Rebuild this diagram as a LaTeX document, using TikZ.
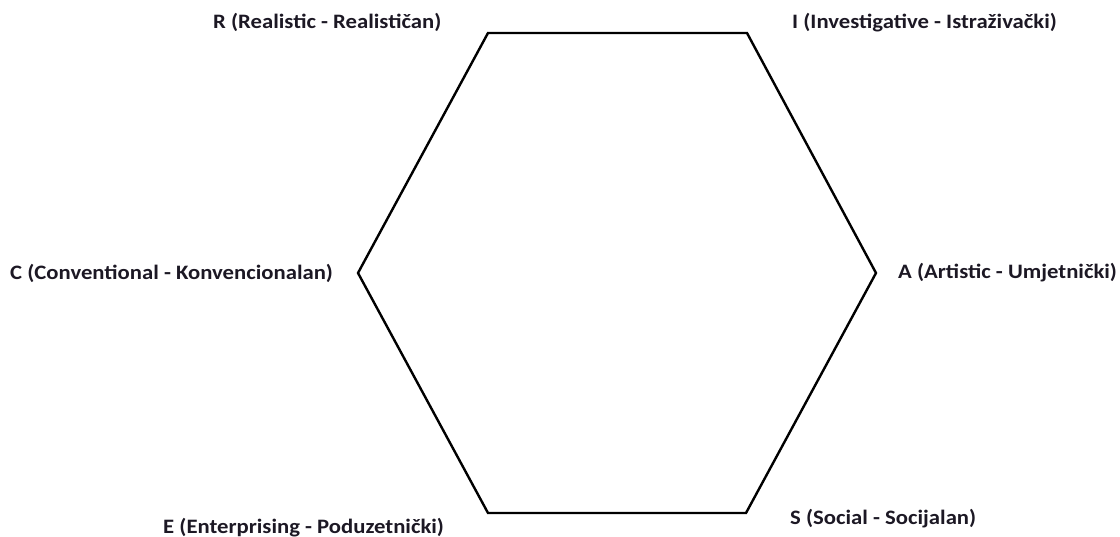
\documentclass[tikz,border=0pt]{standalone}
\usepackage{fontspec}
\setmainfont{Carlito}
\definecolor{labelink}{RGB}{28,24,36}
\begin{document}
\begin{tikzpicture}[x=1pt,y=1pt,
  typelabel/.style={font=\fontsize{20.5}{24}\selectfont\bfseries, text=labelink, inner sep=0pt,
    anchor=base west, xscale=1.107, transform shape},
  hexedge/.style={draw=black, line width=2.4pt, line join=miter}]
\useasboundingbox (0,0) rectangle (1120,537);
% hexagon corners
\coordinate (r) at (488,504);
\coordinate (i) at (747,504);
\coordinate (a) at (876,264);
\coordinate (s) at (746,24);
\coordinate (e) at (488,24);
\coordinate (c) at (358,264);
\draw[hexedge] (r) -- (i) -- (a) -- (s) -- (e) -- (c) -- cycle;
% type labels
\node[typelabel] (lr) at (213,508) {R (Realistic - Realističan)};
\node[typelabel] (li) at (792,508) {I (Investigative - Istraživački)};
\node[typelabel] (lc) at (10,257) {C (Conventional - Konvencionalan)};
\node[typelabel] (la) at (898,258) {A (Artistic - Umjetnički)};
\node[typelabel] (le) at (163,3) {E (Enterprising - Poduzetnički)};
\node[typelabel] (ls) at (790,12) {S (Social - Socijalan)};
\end{tikzpicture}
\end{document}
